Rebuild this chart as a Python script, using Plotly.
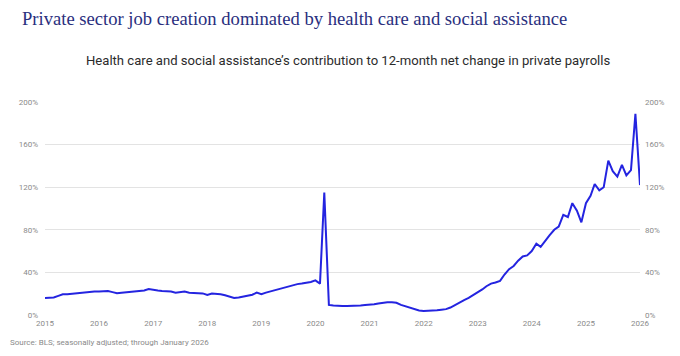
import pandas as pd
import plotly.graph_objects as go

# Monthly share (%) Jan 2015 .. Jan 2026
v2015 = [16, 16, 16.5, 18, 19.5, 19.5, 20, 20.5, 21, 21.5, 22, 22]
v2016 = [22, 22, 22.5, 21.5, 20.5, 21, 21.5, 22, 22.5, 22.5, 23, 24.3]
v2017 = [24, 23, 22.5, 22.5, 22, 21, 21.5, 22, 21, 20.5, 20.5, 20.3]
v2018 = [18.8, 20.2, 20, 19.5, 18.5, 17, 16, 16.5, 17.5, 18, 19, 21]
v2019 = [19.5, 21, 22, 23.5, 24.5, 26, 27, 28, 29, 29.5, 30, 31]
v2020 = [32.5, 29.5, 115, 9.5, 9, 8.5, 8.5, 8.5, 8.5, 8.7, 9, 9.3]
v2021 = [9.5, 10, 10.8, 11.5, 12, 12, 11.5, 9.5, 8, 6.5, 5, 4.2]
v2022 = [3.8, 3.8, 4, 4.5, 5, 5.5, 7, 9.5, 12, 14, 16, 18.5]
v2023 = [21.5, 24, 27, 29.5, 30.5, 32, 38, 43, 46, 51, 55, 56]
v2024 = [60, 67, 64, 70, 75, 80, 83, 94, 92, 105, 98, 87]
v2025 = [105, 112, 123, 117, 120, 145, 135, 130, 141, 131, 136, 189]
v2026 = [122]

values = v2015 + v2016 + v2017 + v2018 + v2019 + v2020 + v2021 + v2022 + v2023 + v2024 + v2025 + v2026
dates = pd.date_range("2015-01-01", periods=len(values), freq="MS")

y_ticks = [0, 40, 80, 120, 160, 200]
y_tick_labels = [f"{t}%" for t in y_ticks]
x_years = list(range(2015, 2027))

title = "Private sector job creation dominated by health care and social assistance"
subtitle = "Health care and social assistance\u2019s contribution to 12-month net change in private payrolls"
source = "Source: BLS; seasonally adjusted; through January 2026"

fig = go.Figure()
fig.add_trace(go.Scatter(x=dates, y=values, mode="lines",
                         line=dict(color="#2424e0", width=2), showlegend=False))
fig.add_trace(go.Scatter(x=dates, y=values, mode="lines", yaxis="y2",
                         line=dict(color="rgba(0,0,0,0)", width=0), showlegend=False,
                         hoverinfo="skip"))

W, H = 680, 356
l, r, t, b = 45, 40, 102, 41
pw, ph = W - l - r, H - t - b

tickfont = dict(family="Roboto, sans-serif", size=8, color="#8a8a8a")


def px_x(x):
    return (x - l) / pw


def px_y(y):
    return (H - b - y) / ph


fig.update_layout(
    width=W, height=H,
    margin=dict(l=l, r=r, t=t, b=b),
    paper_bgcolor="white", plot_bgcolor="white",
    xaxis=dict(
        type="date",
        range=["2015-01-01", "2026-01-01"],
        tickvals=[pd.Timestamp(f"{y}-01-01") for y in x_years],
        ticktext=[str(y) for y in x_years],
        showgrid=False, zeroline=False, showline=False,
        ticks="", tickfont=tickfont, ticklabelstandoff=2,
    ),
    yaxis=dict(
        range=[0, 200], tickvals=y_ticks, ticktext=y_tick_labels,
        showgrid=True, gridcolor="#e3e3e3", gridwidth=1,
        zeroline=False, showline=False, ticks="",
        tickfont=tickfont, ticklabelstandoff=6,
    ),
    yaxis2=dict(
        range=[0, 200], tickvals=y_ticks, ticktext=y_tick_labels,
        overlaying="y", side="right", showgrid=False, zeroline=False,
        showline=False, ticks="", tickfont=tickfont, ticklabelstandoff=4,
    ),
    annotations=[
        dict(text=title, x=px_x(20), y=px_y(19), xref="paper", yref="paper", showarrow=False,
             xanchor="left", yanchor="middle",
             font=dict(family="Liberation Serif, serif", size=18.6, color="#2a2f7e")),
        dict(text=subtitle, x=px_x(348), y=px_y(60), xref="paper", yref="paper", showarrow=False,
             xanchor="center", yanchor="middle",
             font=dict(family="Roboto, sans-serif", size=13.1, color="#2b2b2b")),
        dict(text=source, x=px_x(8), y=px_y(342), xref="paper", yref="paper", showarrow=False,
             xanchor="left", yanchor="middle",
             font=dict(family="Roboto, sans-serif", size=8, color="#8a8a8a")),
    ],
)

fig.write_html("out.html", config={"displayModeBar": False},
               post_script="document.body.style.margin='0';")
